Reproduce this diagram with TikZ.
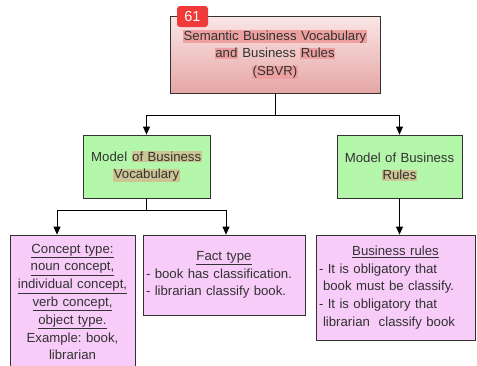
\documentclass[tikz,border=0pt]{standalone}
\usepackage{fontspec}
\setmainfont{Liberation Sans}
\usetikzlibrary{arrows.meta}
\frenchspacing
\definecolor{boxpink}{RGB}{248,204,248}
\definecolor{boxgreen}{RGB}{180,246,170}
\definecolor{topup}{RGB}{250,230,230}
\definecolor{topdown}{RGB}{230,166,166}
\definecolor{hlred}{RGB}{236,160,160}
\definecolor{hlolive}{RGB}{204,196,146}
\definecolor{badgered}{RGB}{240,58,58}
\definecolor{inkgray}{RGB}{50,50,50}
\newcommand{\markred}[1]{{\setlength{\fboxsep}{0.6pt}\colorbox{hlred}{#1}}}
\newcommand{\markolive}[1]{{\setlength{\fboxsep}{0.6pt}\colorbox{hlolive}{#1}}}
\newcommand{\headline}[1]{\makebox[\hsize][c]{\underline{#1}}}
\tikzset{
  box/.style={draw=inkgray,line width=0.8pt,inner sep=0pt,align=center,
    text=inkgray,font=\fontsize{13.2}{17.8}\selectfont},
  topbox/.style={box,top color=topup,bottom color=topdown,minimum width=210,minimum height=77,text width=205},
  midbox/.style={box,fill=boxgreen,minimum height=63,text width=122},
  leafbox/.style={box,fill=boxpink},
  badge/.style={fill=badgered,rounded corners=3pt,text=white,minimum width=31,minimum height=21,
    inner sep=0pt,font=\fontsize{14.5}{16}\selectfont},
  arr/.style={line width=0.8pt,-{Triangle[width=7pt,length=8pt]}}
}
\begin{document}
\begin{tikzpicture}[x=1pt,y=-1pt]
  \useasboundingbox (0,0) rectangle (477,365);
  % top
  \node[topbox] (sbvr) at (275,54.5) {\markred{Semantic Business Vocabulary}\\
    \markred{and} Business \markred{Rules}\\ \markred{(SBVR)}};
  \node[badge] (num) at (192.5,16.5) {61};
  % models
  \node[midbox,minimum width=127] (vocab) at (146.5,166.5) {Model \markolive{of Business}\\ \markolive{Vocabulary}};
  \node[midbox,minimum width=125] (rules) at (399.5,166.5) {Model of Business\\ \markolive{Rules}};
  % leaves
  \node[leafbox,minimum width=125,minimum height=134,text width=122] (concept) at (72.5,302)
    {\underline{Concept type:}\\ \underline{noun concept,}\\ \underline{individual concept,}\\
     \underline{verb concept,}\\ \underline{object type.}\\ Example: book,\\ librarian};
  \node[leafbox,minimum width=162,minimum height=80,text width=156,align=left] (fact) at (224,275)
    {\headline{Fact type}\\ - book has classification.\\ - librarian classify book.};
  \node[leafbox,minimum width=159,minimum height=105,text width=153,align=left] (brules) at (395.5,287.5)
    {\headline{Business rules}\\ - It is obligatory that\\ \hspace{4pt}book must be classify.\\
     - It is obligatory that\\ \hspace{4pt}librarian\ \ classify book};
  % connectors
  \coordinate (split1) at (275,115);
  \draw[line width=0.8pt] (sbvr.south) -- (split1);
  \draw[arr] (split1) -| (vocab.north);
  \draw[arr] (split1) -| (rules.north);
  \draw[line width=0.8pt] (vocab.south) -- ++(0,12) coordinate (split2);
  \draw[arr] (split2) -| ([xshift=-15.5pt]concept.north);
  \draw[arr] (split2) -| ([xshift=2pt]fact.north);
  \draw[arr] (rules.south) -- (rules.south |- brules.north);
\end{tikzpicture}
\end{document}
